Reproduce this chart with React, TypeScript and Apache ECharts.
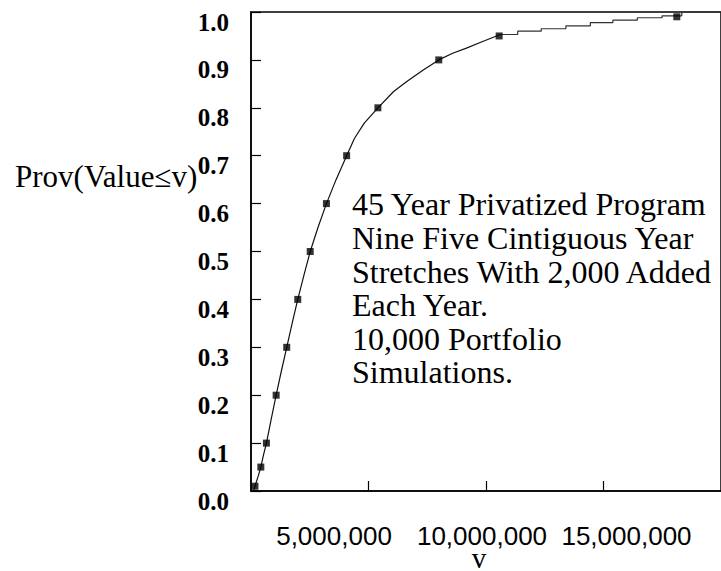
import React, { useEffect, useRef } from "react";
import * as echarts from "echarts";

// Quantile markers (probability, value)
const quantileP = [0.01, 0.05, 0.1, 0.2, 0.3, 0.4, 0.5, 0.6, 0.7, 0.8, 0.9, 0.95, 0.99];
const quantileV = [167000, 418000, 656000, 1070000, 1520000, 1990000, 2520000, 3210000, 4070000, 5400000, 7990000, 10560000, 18120000];

// Main body of the empirical CDF
const bodyV = [120000, 167000, 300000, 418000, 530000, 656000, 860000, 1070000, 1290000, 1520000, 1750000, 1990000, 2250000, 2520000, 2850000, 3210000, 3620000, 4070000, 4400000, 4820000, 5400000, 6070000, 6630000, 7330000, 7990000, 8580000, 9140000, 9830000, 10560000];
const bodyP = [0.0, 0.01, 0.03, 0.05, 0.075, 0.1, 0.15, 0.2, 0.25, 0.3, 0.35, 0.4, 0.45, 0.5, 0.55, 0.6, 0.65, 0.7, 0.736, 0.768, 0.8, 0.834, 0.855, 0.879, 0.9, 0.914, 0.924, 0.938, 0.952];

// Upper tail (stepped)
const tailV = [10560000, 11350000, 12350000, 13400000, 14440000, 15400000, 16440000, 17490000, 18330000, 20000000];
const tailP = [0.953, 0.96, 0.965, 0.971, 0.978, 0.983, 0.988, 0.992, 1.0, 1.0];

const xMin = 0;
const xMax = 20000000;
const xInterval = 5000000;
const yMin = 0;
const yMax = 1;
const yInterval = 0.1;

const yName = "Prov(Value≤v)";
const xName = "v";
const noteLines = [
  "45 Year Privatized Program",
  "Nine Five Cintiguous Year",
  "Stretches With 2,000 Added",
  "Each Year.",
  "10,000 Portfolio",
  "Simulations.",
];

const SERIF = '"Liberation Serif", "Times New Roman", serif';
const SANS = '"Liberation Sans", Arial, sans-serif';

const xLabelStyle = (padding: number[]) => ({
  fontFamily: SANS,
  fontSize: 26,
  lineHeight: 22,
  color: "#000",
  padding,
});

export default function App() {
  const ref = useRef<HTMLDivElement>(null);
  useEffect(() => {
    const chart = echarts.init(ref.current!, null, { renderer: "svg" });
    chart.setOption({
      animation: false,
      backgroundColor: "#fff",
      grid: {
        left: 251,
        top: 12,
        width: 480,
        height: 479,
        show: true,
        borderColor: "#000",
        borderWidth: 1.5,
        backgroundColor: "transparent",
      },
      xAxis: {
        type: "value",
        min: xMin,
        max: xMax,
        interval: xInterval,
        axisLine: { lineStyle: { color: "#000", width: 1.5 } },
        axisTick: { inside: true, length: 10, lineStyle: { color: "#000", width: 1.2 } },
        splitLine: { show: false },
        axisLabel: {
          showMinLabel: false,
          showMaxLabel: false,
          formatter: (v: number) => {
            const s = v.toLocaleString("en-US");
            if (v === 5000000) return `{a|${s}}`;
            if (v === 10000000) return `{b|${s}}`;
            if (v === 15000000) return `{c|${s}}`;
            return s;
          },
          fontFamily: SANS,
          fontSize: 26,
          lineHeight: 22,
          color: "#000",
          margin: 34,
          rich: {
            a: xLabelStyle([0, 69, 0, 0]),
            b: xLabelStyle([0, 8, 0, 0]),
            c: xLabelStyle([0, 0, 0, 46]),
          },
        },
      },
      yAxis: {
        type: "value",
        min: yMin,
        max: yMax,
        interval: yInterval,
        axisLine: { lineStyle: { color: "#000", width: 1.5 } },
        axisTick: { inside: true, length: 10, lineStyle: { color: "#000", width: 1.2 } },
        splitLine: { show: false },
        axisLabel: {
          formatter: (v: number) => v.toFixed(1),
          fontFamily: SERIF,
          fontWeight: "bold",
          fontSize: 25,
          lineHeight: 20,
          verticalAlign: "top",
          color: "#000",
          margin: 22,
        },
      },
      series: [
        {
          type: "line",
          data: bodyV.map((v, i) => [v, bodyP[i]]),
          showSymbol: false,
          symbol: "none",
          lineStyle: { color: "#111", width: 1.2 },
        },
        {
          type: "line",
          step: "end",
          data: tailV.map((v, i) => [v, tailP[i]]),
          showSymbol: false,
          symbol: "none",
          lineStyle: { color: "#333", width: 1.2 },
        },
        {
          type: "scatter",
          data: quantileV.map((v, i) => [v, quantileP[i]]),
          symbol: "rect",
          symbolSize: 7,
          itemStyle: { color: "#000" },
          z: 5,
        },
      ],
      graphic: [
        {
          type: "text",
          x: 15,
          y: 176,
          style: {
            text: yName,
            fontFamily: SERIF,
            fontSize: 31,
            fill: "#000",
            align: "left",
            verticalAlign: "middle",
          },
        },
        {
          type: "text",
          x: 479,
          y: 558,
          style: {
            text: xName,
            fontFamily: SERIF,
            fontSize: 29,
            lineHeight: 20,
            fill: "#000",
            align: "center",
            verticalAlign: "middle",
          },
        },
        {
          type: "text",
          x: 352,
          y: 187.5,
          style: {
            text: noteLines.join("\n"),
            fontFamily: SERIF,
            fontSize: 32,
            lineHeight: 33.6,
            fill: "#000",
            align: "left",
            verticalAlign: "top",
          },
        },
      ],
    });
    return () => chart.dispose();
  }, []);
  return (
    <div
      ref={ref}
      style={{ position: "absolute", left: 0, top: 0, width: 721, height: 571 }}
    />
  );
}
